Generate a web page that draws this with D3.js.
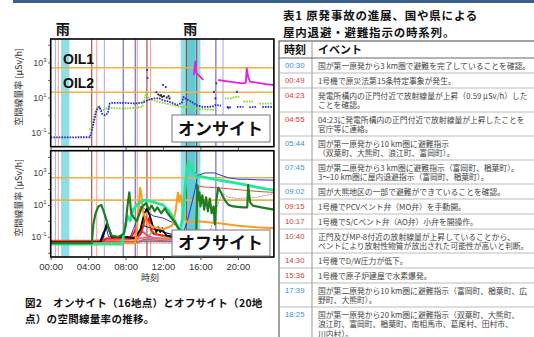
<!DOCTYPE html>
<html><head><meta charset="utf-8">
<script src="https://cdn.jsdelivr.net/npm/d3@7"></script>
<style>
body{margin:0;background:#fff;}
svg{display:block;}
</style>
</head><body>
<svg id="c" width="534" height="337"></svg>
<script>
// ---------------- DATA ----------------
const hourTicks = [0, 4, 8, 12, 16, 20];
const labelExps = [-1, 1, 3];
const rainBands = [[1.1, 2.0], [13.9, 16.0]];
const heavyRain = [[14.5, 15.45]];
const rainLabelHours = [1.3, 14.9];
const oilValues = [500, 20];
const oilNames = ["OIL1", "OIL2"];

const eventTimes = ["00:30","00:49","04:23","04:55","05:44","07:45","09:02","09:15","10:17","10:40","14:30","15:36","17:39","18:25"];
const eventKinds = ["b","r","r","r","b","b","b","r","r","r","r","r","b","b"];
const eventTexts = [
 "国が第一原発から3 km圏で避難を完了していることを確認。",
 "1号機で原災法第15条特定事象が発生。",
 "発電所構内の正門付近で放射線量が上昇（0.59 µSv/h）した\nことを確認。",
 "04:23に発電所構内の正門付近で放射線量が上昇したことを\n官庁等に連絡。",
 "国が第一原発から10 km圏に避難指示\n（双葉町、大熊町、浪江町、富岡町）。",
 "国が第二原発から3 km圏に避難指示（富岡町、楢葉町）。\n3～10 km圏に屋内退避指示（富岡町、楢葉町）。",
 "国が大熊地区の一部で避難ができていることを確認。",
 "1号機でPCVベント弁（MO弁）を手動開。",
 "1号機でS/Cベント弁（AO弁）小弁を開操作。",
 "正門及びMP-8付近の放射線量が上昇していることから、\nベントにより放射性物質が放出された可能性が高いと判断。",
 "1号機でD/W圧力が低下。",
 "1号機で原子炉建屋で水素爆発。",
 "国が第二原発から10 km圏に避難指示（富岡町、楢葉町、広\n野町、大熊町）。",
 "国が第一原発から20 km圏に避難指示（双葉町、大熊町、\n浪江町、富岡町、楢葉町、南相馬市、葛尾村、田村市、\n川内村）。"
];
const tableTitle = ["表1 原発事故の進展、国や県による", "屋内退避・避難指示の時系列。"];
const tableHeader = ["時刻", "イベント"];
const caption = ["図2　オンサイト（16地点）とオフサイト（20地", "点）の空間線量率の推移。"];

// Onsite (hours, µSv/h); null = gap
const onBlue = [[0,0.055],[4.2,0.056],[4.4,0.14],[4.6,0.4],[4.9,2],[5.2,3],[5.5,1.2],[5.8,1],[6.1,1.3],[6.3,4.5],[6.6,5],[8,5],[9,4.6],[9.6,5],[10.1,6],[10.6,8],[11,9],[11.6,9],[12,7],[12.6,6],[13,5],[13.5,3.8],[14.0,5],[14.2,11],[14.5,8],[15,6],[15.5,4],[15.7,3.5],[16.2,3],[17,3],[17.4,3.2],[17.6,3.8],[18.2,3.5],[18.5,null],[18.8,3],[19.3,2.8],[19.5,null],[19.9,3],[20.6,3],[20.8,null],[21.2,2.8],[22,3],[22.3,null],[22.6,2.9],[23.85,3]];
const onBlueDots = [[10.3,370],[10.35,130],[12.0,52],[11.8,14],[12.3,40],[11.3,20],[12.6,12],[17.6,9],[17.7,65],[19.9,21],[17.45,21],[19.0,2.6]];
const onGreen = [[4.1,0.15],[4.4,0.2],[4.7,1],[5.0,3],[5.3,2.5],[5.5,1.8],[6,2.5],[7,2.5],[8,2.4],[9,2.6],[9.8,3],[10.2,20],[10.5,8],[11,7],[12,5],[13,3.8],[14,3],[15,2.8],[16,2.2],[17.5,2],[17.8,null],[18.6,9],[19.4,9],[19.6,11],[20.2,11],[20.4,null],[20.6,6],[21.6,6],[21.9,null],[22.3,4.5],[23.85,4.5]];
const onMagentaA = [[15.3,190],[15.45,1100],[15.55,250],[15.8,190],[16.0,150],[16.3,100]];
const onMagentaB = [[17.9,100],[18.5,90],[19.5,75],[20.5,65],[20.85,70],[20.95,460],[21.1,150],[21.3,80],[22,70],[23,58],[23.85,52]];
const onBlackDots = [[11.5,15],[11.7,13],[11.9,11],[12.1,12],[12.4,10],[12.7,9]];

// Offsite
const offTeal = [[0,0.036],[6,0.037],[9,0.042],[10,0.055],[12,0.05],[13.5,0.05]];
const offCyan = [[0,0.04],[8,0.04],[9.5,0.05],[10.5,0.07],[13.5,0.055]];
const offYellow = [[0,0.042],[9,0.043],[9.5,0.08],[10.2,0.1],[11,0.07],[13.5,0.06]];
const offPurple = [[0,0.044],[9,0.046],[10,0.07],[11.5,0.06],[13.5,0.05]];
const offLime = [[0,0.046],[8.8,0.047],[9.3,0.15],[9.8,0.25],[10.4,0.12],[11,0.2],[12,0.1],[13.5,0.08]];
const offMagenta = [[0,0.048],[9,0.048],[9.4,0.1],[9.8,0.2],[10.3,0.12],[11,0.09],[13.5,0.07]];
const offPink = [[0,0.058],[4.4,0.058],[5,0.06],[8,0.065],[9,0.07],[10,0.09],[11,0.08],[13.5,0.07]];
const offNavy = [[0,0.045],[5.5,0.045],[5.8,0.3],[6.0,0.9],[6.3,0.3],[6.6,0.1],[8,0.08],[9,0.1],[10,0.5],[11,0.3],[12,0.2],[13.5,0.12]];
const offRed = [[0,0.052],[5.5,0.052],[6,0.08],[8.5,0.08],[8.8,0.15],[9.1,0.3],[9.3,0.12],[9.6,0.15],[9.9,0.5],[10.1,1.8],[10.3,0.8],[10.5,1.5],[10.7,0.3],[11,0.15],[12,0.12],[13.5,0.1]];
const offBlack = [[0,0.045],[5.3,0.045],[5.6,0.13],[5.85,0.3],[6.0,0.6],[6.2,0.3],[6.5,0.1],[8,0.1],[9,0.08],[9.6,0.3],[10.0,3],[10.3,6],[10.6,2],[10.9,0.5],[11.1,0.35],[11.3,0.2],[11.5,0.4],[11.7,0.2],[11.9,0.35],[12.1,0.2],[12.4,0.12],[13,0.1],[13.5,0.1]];
const offGray = [[0,0.04],[16.8,0.04],[17.2,0.5],[17.6,3],[18.0,20],[18.4,50],[19,30],[20,25],[22,30],[23.85,50]];
const offCoral = [[0,0.05],[15.5,0.05],[15.6,0.5],[15.8,150],[16.5,130],[17.5,120],[18.5,110],[20,90],[22,70],[23.85,60]];
const offBlue = [[0,0.045],[5.2,0.045],[5.6,0.2],[5.9,0.4],[6.2,0.1],[8.5,0.1],[9.2,1],[9.6,8],[10.0,6],[10.5,3],[11,2],[12,1.5],[13,0.8],[13.8,0.3],[14.2,0.2],[14.6,1],[15.0,8],[15.4,80],[15.7,700],[16.5,1000],[17.5,1000],[18.2,700],[19,500],[20,400],[21,400],[22,370],[23.85,350]];
const offOrange = [[0,0.04],[9.0,0.04],[9.2,0.3],[9.4,8],[9.55,120],[9.7,40],[9.85,5],[10.0,2],[10.2,1],[10.5,0.6],[11,0.4],[12,0.3],[13,0.5],[13.3,3],[13.5,20],[13.6,60],[13.75,15],[13.9,40],[14.1,8],[14.3,1.5],[14.6,0.8],[15.5,0.9],[16,0.9],[18,0.7],[20,0.5],[22,0.4],[23.85,0.35]];
const offSpring = [[0,0.035],[7.6,0.035],[7.9,0.3],[8.2,2],[8.5,1],[8.8,5],[9.2,10],[9.6,15],[10,20],[10.5,18],[11,15],[11.5,12],[12,10],[12.5,5],[13,2],[13.5,0.5],[13.8,0.2],[14.1,1.5],[14.3,50],[14.5,800],[14.7,5000],[14.85,2000],[15.0,3000],[15.2,1200],[15.4,1000],[15.6,500],[16,600],[17,450],[18,350],[19,280],[20,220],[21,170],[22,130],[23,100],[23.85,85]];
const offDarkGreen = [[0,0.04],[4.4,0.04],[4.55,0.6],[4.8,3],[5.1,8],[5.4,10],[5.6,5],[5.9,1.5],[6.2,0.3],[6.5,0.12],[7.2,0.1],[7.8,0.15],[8.0,0.5],[8.2,8],[8.4,60],[8.6,3],[8.9,1.5],[9.2,1.0],[9.5,3],[9.8,8],[10.2,13],[10.5,5],[10.8,9],[11.1,4],[11.4,7],[11.8,3],[12.2,6],[12.5,3],[12.9,1.5],[13.3,0.8],[13.7,0.3],[14.2,0.15],[15.0,0.15],[15.55,0.2],[15.65,170],[15.8,20],[15.9,60],[16.0,8],[16.2,40],[16.4,5],[16.6,30],[16.8,4],[17.0,25],[17.2,3],[17.4,8],[17.55,0.6],[17.7,20],[17.9,120],[18.2,60],[18.6,20],[19.0,10],[19.5,8],[20.5,7],[21.0,7],[21.1,170],[21.3,15],[21.6,9],[22.5,7],[23.85,5]];

// ---------------- DRAW ----------------
const svg = d3.select("#c");
const JP = '"Noto Sans CJK JP","Noto Sans",sans-serif';
const LAT = '"Liberation Sans",Arial,"Noto Sans CJK JP",sans-serif';
const xEnd = 23.85;
const x = d3.scaleLinear().domain([0, 24]).range([50.7, 275.3]);
const toH = s => { const [h, m] = s.split(":").map(Number); return h + m / 60; };

svg.append("rect").attr("x", 13).attr("y", 0).attr("width", 521).attr("height", 3).attr("fill", "#3d5f8e");

const panels = [
  {id:"on", y: d3.scaleLog().domain([Math.pow(10,-1.79), Math.pow(10,4.33)]).range([146.7, 39]), box:[172,115,98,27], label:"オンサイト"},
  {id:"off", y: d3.scaleLog().domain([Math.pow(10,-2.26), Math.pow(10,4.39)]).range([257, 150.7]), box:[172,230,98,26], label:"オフサイト"}
];
const darkEvents = new Set([2, 8, 10, 11]);
const midBlue = new Set([5, 6, 12]);
function evColor(i){
  if (eventKinds[i] === "r") return darkEvents.has(i) ? "#a3403c" : "#f2a3a3";
  return midBlue.has(i) ? "#6262b0" : "#aeaee6";
}

const onStyles = [
  {d:onGreen, c:"#7fd92a", w:1.8, dash:"1.6 1.1"},
  {d:onBlue, c:"#2a2ac6", w:1.8, dash:"1.6 1.1"},
  {d:onMagentaA, c:"#e61de6", w:1.8},
  {d:onMagentaB, c:"#e61de6", w:1.8}
];
const offStyles = [
  {d:offTeal, c:"#20a0a0", w:1.2}, {d:offCyan, c:"#33c7e0", w:1.2}, {d:offYellow, c:"#d8d820", w:1.2},
  {d:offPurple, c:"#9966cc", w:1.2}, {d:offLime, c:"#66dd33", w:1.4}, {d:offMagenta, c:"#dd22dd", w:1.2},
  {d:offPink, c:"#f06a6a", w:1.6}, {d:offNavy, c:"#1a1a7a", w:1.1}, {d:offGray, c:"#9a9a9a", w:1, dash:"2 1"},
  {d:offCoral, c:"#e0503a", w:1}, {d:offBlue, c:"#2f2fe0", w:1}, {d:offRed, c:"#ff1a1a", w:2},
  {d:offBlack, c:"#000000", w:1.8}, {d:offOrange, c:"#ff9a1a", w:2}, {d:offSpring, c:"#22e89a", w:2.8},
  {d:offDarkGreen, c:"#1f7d1f", w:2.2}
];

panels.forEach((p, pi) => {
  const y = p.y;
  const top = y.range()[1], bot = y.range()[0];
  const x0 = x(0), x1 = x(xEnd);
  const g = svg.append("g");
  svg.append("defs").append("clipPath").attr("id", "clip" + p.id)
    .append("rect").attr("x", x0).attr("y", top).attr("width", x1 - x0).attr("height", bot - top);
  const plot = g.append("g").attr("clip-path", `url(#clip${p.id})`);
  plot.selectAll(".rain").data(rainBands).join("rect")
    .attr("x", d => x(d[0])).attr("width", d => x(d[1]) - x(d[0]))
    .attr("y", top).attr("height", bot - top).attr("fill", "#8fdfe7");
  plot.selectAll(".hrain").data(heavyRain).join("rect")
    .attr("x", d => x(d[0])).attr("width", d => x(d[1]) - x(d[0]))
    .attr("y", top).attr("height", bot - top).attr("fill", "#5ecbd6");
  plot.selectAll(".ev").data(eventTimes).join("line")
    .attr("x1", d => x(toH(d))).attr("x2", d => x(toH(d))).attr("y1", top).attr("y2", bot)
    .attr("stroke", (d, i) => evColor(i)).attr("stroke-width", 1.1);
  plot.selectAll(".oil").data(oilValues).join("line")
    .attr("x1", x0).attr("x2", x1).attr("y1", d => y(d)).attr("y2", d => y(d))
    .attr("stroke", "#f2b044").attr("stroke-width", 1.6);
  const line = d3.line().defined(d => d[1] != null).x(d => x(d[0])).y(d => y(d[1]));
  const styles = pi === 0 ? onStyles : offStyles;
  styles.forEach(s => {
    plot.append("path").attr("d", line(s.d)).attr("fill", "none").attr("stroke", s.c)
      .attr("stroke-width", s.w).attr("stroke-dasharray", s.dash || null).attr("stroke-linejoin", "round");
  });
  if (pi === 0) {
    plot.selectAll(".bd").data(onBlueDots).join("circle").attr("cx", d => x(d[0])).attr("cy", d => y(d[1])).attr("r", 1.1).attr("fill", "#2a2ac6");
    plot.selectAll(".kd").data(onBlackDots).join("circle").attr("cx", d => x(d[0])).attr("cy", d => y(d[1])).attr("r", 1.1).attr("fill", "#222");
  }
  g.append("rect").attr("x", x0).attr("y", top).attr("width", x1 - x0).attr("height", bot - top)
    .attr("fill", "none").attr("stroke", "#000").attr("stroke-width", 1.6);
  const decades = d3.range(Math.ceil(Math.log10(y.domain()[0])), Math.floor(Math.log10(y.domain()[1])) + 1).map(e => Math.pow(10, e));
  const ya = g.append("g").attr("transform", `translate(${x0},0)`)
    .call(d3.axisLeft(y).tickValues(decades).tickSize(2.5).tickFormat(""));
  ya.select(".domain").remove();
  ya.selectAll("line").attr("stroke", "#555");
  labelExps.forEach(e => {
    const t = g.append("text").attr("x", x0 - 4).attr("y", y(Math.pow(10, e)) + 3.5)
      .attr("text-anchor", "end").attr("font-family", LAT).attr("font-size", 9).attr("fill", "#444");
    t.append("tspan").text("10");
    t.append("tspan").attr("dy", -4).attr("font-size", 6).text(String(e));
  });
  const xa = g.append("g").attr("transform", `translate(0,${bot})`)
    .call(d3.axisBottom(x).tickValues(hourTicks).tickSize(3).tickPadding(3)
      .tickFormat(d => pi === 1 ? d3.format("02d")(d) + ":00" : ""));
  xa.select(".domain").remove();
  xa.selectAll("line").attr("stroke", "#444");
  xa.selectAll("text").attr("font-family", LAT).attr("font-size", 9.5).attr("fill", "#333");
  g.append("text").attr("transform", `translate(22,${(top + bot) / 2 - 6}) rotate(-90)`)
    .attr("text-anchor", "middle").attr("font-family", JP).attr("font-size", 9).attr("fill", "#333")
    .text("空間線量率 [µSv/h]");
  const b = p.box;
  g.append("rect").attr("x", b[0]).attr("y", b[1]).attr("width", b[2]).attr("height", b[3])
    .attr("fill", "#fff").attr("stroke", "#777").attr("stroke-width", 1);
  g.append("text").attr("x", b[0] + 6).attr("y", b[1] + b[3] / 2 + 6)
    .attr("font-family", JP).attr("font-weight", 700).attr("font-size", 17).attr("fill", "#111").text(p.label);
  if (pi === 0) {
    g.selectAll(".oiln").data(oilNames).join("text")
      .attr("x", 63).attr("y", (d, i) => y(oilValues[i]) - 4)
      .attr("font-family", LAT).attr("font-weight", 700).attr("font-size", 14).attr("fill", "#111").text(d => d);
  }
});

svg.selectAll(".rl").data(rainLabelHours).join("text")
  .attr("x", d => x(d)).attr("y", 34).attr("text-anchor", "middle")
  .attr("font-family", JP).attr("font-weight", 700).attr("font-size", 14).attr("fill", "#111").text("雨");

svg.append("text").attr("x", 150).attr("y", 281).attr("text-anchor", "middle")
  .attr("font-family", JP).attr("font-size", 9).attr("fill", "#333").text("時刻");

svg.selectAll(".cap").data(caption).join("text")
  .attr("x", 25).attr("y", (d, i) => 307 + i * 15.5)
  .attr("font-family", JP).attr("font-weight", 700).attr("font-size", 10.5).attr("letter-spacing", 0.3)
  .attr("fill", "#111").text(d => d);

// ---------------- TABLE ----------------
svg.selectAll(".tt").data(tableTitle).join("text")
  .attr("x", 283).attr("y", (d, i) => 19.5 + i * 17)
  .attr("font-family", JP).attr("font-weight", 700).attr("font-size", 11.5).attr("letter-spacing", 0.8)
  .attr("fill", "#111").text(d => d);

const tL = 279, tR = 540, colX = 312, headTop = 41, headBot = 58;
const tg = svg.append("g");
const rows = [];
let yy = headBot;
eventTexts.forEach((t, i) => {
  const lines = t.split("\n");
  const h = 6 + 9 * lines.length;
  rows.push({top: yy, h, lines, i});
  yy += h;
});
tg.append("rect").attr("x", tL).attr("y", headTop).attr("width", tR - tL).attr("height", yy - headTop)
  .attr("fill", "#fff").attr("stroke", "#444").attr("stroke-width", 1);
tg.append("line").attr("x1", colX).attr("x2", colX).attr("y1", headTop).attr("y2", yy).attr("stroke", "#999");
tg.append("line").attr("x1", tL).attr("x2", tR).attr("y1", headBot).attr("y2", headBot).attr("stroke", "#666");
tg.append("text").attr("x", 284).attr("y", 54).attr("font-family", JP).attr("font-weight", 700).attr("font-size", 11).attr("fill", "#111").text(tableHeader[0]);
tg.append("text").attr("x", 318).attr("y", 54).attr("font-family", JP).attr("font-weight", 700).attr("font-size", 11).attr("fill", "#111").text(tableHeader[1]);
rows.forEach(r => {
  tg.append("line").attr("x1", tL).attr("x2", tR).attr("y1", r.top + r.h).attr("y2", r.top + r.h).attr("stroke", "#aaa").attr("stroke-width", 0.8);
  tg.append("text").attr("x", 285).attr("y", r.top + 10.3)
    .attr("font-family", LAT).attr("font-size", 7.8)
    .attr("fill", eventKinds[r.i] === "b" ? "#3b8fd0" : "#d23b3b").text(eventTimes[r.i]);
  r.lines.forEach((ln, k) => {
    tg.append("text").attr("x", 318).attr("y", r.top + 10.5 + k * 9.5)
      .attr("font-family", JP).attr("font-size", 7.8).attr("fill", "#444").text(ln);
  });
});
</script>
</body></html>
